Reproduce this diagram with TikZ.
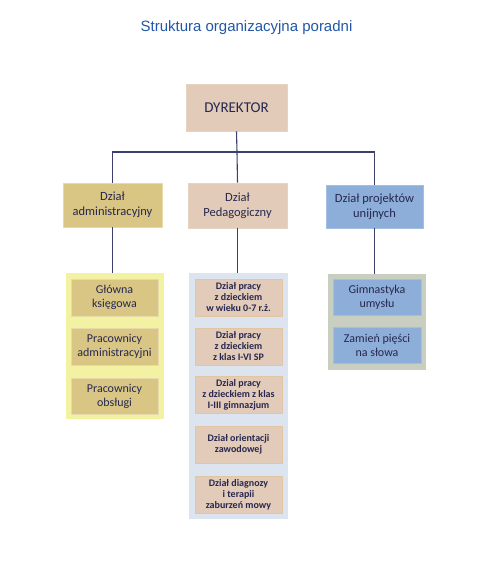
\documentclass[tikz,border=0pt]{standalone}
\usepackage{fontspec}
\setmainfont{Carlito}
\newfontfamily\titlefont{Liberation Sans}
\definecolor{txt}{HTML}{272750}
\definecolor{ttl}{HTML}{2157A6}
\definecolor{ln}{HTML}{3A3F6E}
\definecolor{beige}{HTML}{E2CBB8}
\definecolor{beigeb}{HTML}{E6D3C2}
\definecolor{gold}{HTML}{D9C684}
\definecolor{goldb}{HTML}{E6DBA8}
\definecolor{blu}{HTML}{8DAED8}
\definecolor{blub}{HTML}{A3BEE2}
\definecolor{ylw}{HTML}{F2F2A2}
\definecolor{lblu}{HTML}{DCE4F0}
\definecolor{gry}{HTML}{C8CFC0}
\definecolor{mbord}{HTML}{E2C6A4}
\tikzset{
  box/.style={draw, line width=0.8pt, inner sep=0pt, align=center, text=txt, anchor=center},
  cont/.style={inner sep=0pt, anchor=center},
  conn/.style={draw=ln, line width=1.1pt},
}
\begin{document}
\begin{tikzpicture}[x=1pt,y=-1pt]
\useasboundingbox (0,0) rectangle (489,573);
\node[text=ttl, font=\titlefont\fontsize{15}{18}\selectfont] (title) at (246.5,28) {Struktura organizacyjna poradni};
% containers
\node[cont, fill=ylw, minimum width=98pt, minimum height=146pt] (lc) at (115,346) {};
\node[cont, fill=lblu, minimum width=99pt, minimum height=246pt] (mc) at (238.5,396) {};
\node[cont, fill=gry, minimum width=98pt, minimum height=96pt] (rc) at (377,322) {};
% top
\node[box, fill=beige, draw=beigeb, minimum width=101pt, minimum height=47pt, font=\fontsize{15}{17}\selectfont] (dyr) at (236.5,107.5) {DYREKTOR};
\node[box, fill=gold, draw=goldb, minimum width=99pt, minimum height=44pt, font=\fontsize{12.5}{15}\selectfont] (adm) at (112.5,205) {Dział\\administracyjny};
\node[box, fill=beige, draw=beigeb, minimum width=99pt, minimum height=45pt, font=\fontsize{12.5}{15}\selectfont] (ped) at (237.5,205.5) {Dział\\Pedagogiczny};
\node[box, fill=blu, draw=blub, minimum width=97pt, minimum height=43pt, font=\fontsize{12.5}{15}\selectfont] (proj) at (374.5,206.5) {Dział projektów\\unijnych};
% left inner
\tikzset{lin/.style={box, fill=gold, draw=goldb, minimum width=87pt, minimum height=37pt, font=\fontsize{12}{14}\selectfont}}
\node[lin] (l1) at (114.5,297.5) {Główna\\księgowa};
\node[lin] (l2) at (114.5,346.5) {Pracownicy\\administracyjni};
\node[lin, minimum height=36pt] (l3) at (114.5,396) {Pracownicy\\obsługi};
% middle inner
\tikzset{mid/.style={box, fill=beige, draw=mbord, minimum width=87pt, minimum height=37pt, font=\fontsize{10}{11}\selectfont\bfseries}}
\node[mid] (m1) at (238.5,297.5) {Dział pracy\\z dzieckiem\\w wieku 0-7 r.ż.};
\node[mid] (m2) at (238.5,346.5) {Dział pracy\\z dzieckiem\\z klas I-VI SP};
\node[mid] (m3) at (238.5,395) {Dzial pracy\\z dzieckiem z klas\\I-III gimnazjum};
\node[mid] (m4) at (238.5,444.5) {Dział orientacji\\zawodowej};
\node[mid] (m5) at (238.5,494.5) {Dział diagnozy\\i terapii\\zaburzeń mowy};
% right inner
\tikzset{rin/.style={box, fill=blu, draw=blub, minimum width=88pt, minimum height=36pt, font=\fontsize{12}{14}\selectfont}}
\node[rin] (r1) at (377,297) {Gimnastyka\\umysłu};
\node[rin] (r2) at (377,345) {Zamień pięści\\na słowa};
% connectors
\coordinate (bus) at (237,152);
\draw[conn] (dyr.south) -- (bus);
\draw[conn] (bus) -| (adm.north);
\draw[conn] (bus) -| (proj.north);
\draw[conn] (bus) -- (ped.north);
\draw[conn] (adm.south) -- (adm.south |- lc.north);
\draw[conn] (ped.south) -- (ped.south |- mc.north);
\draw[conn] (proj.south) -- (proj.south |- rc.north);
\end{tikzpicture}
\end{document}
